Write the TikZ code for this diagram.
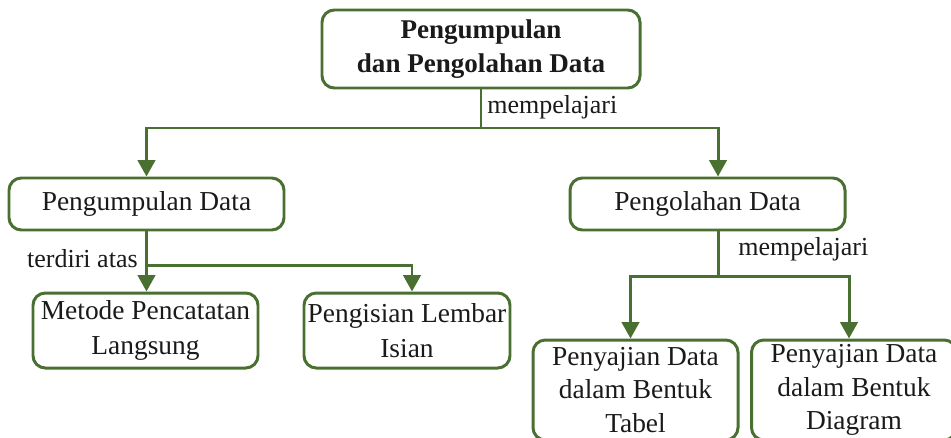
\documentclass[tikz,border=0pt]{standalone}
\usepackage{fontspec}
\setmainfont{Liberation Serif}
\usetikzlibrary{arrows.meta, positioning, calc}
\definecolor{treegreen}{HTML}{4A7031}
\definecolor{darktext}{HTML}{1A1A1A}
\tikzset{
  card/.style={rectangle, rounded corners=7pt, align=center, draw=treegreen,
               line width=1.7pt, fill=white, text=darktext, inner sep=1pt,
               font=\fontsize{15.6}{19.9}\selectfont},
  rootcard/.style={card, minimum width=6.36cm, minimum height=1.56cm,
               font=\fontsize{15.4}{19.2}\selectfont\bfseries},
  midcard/.style={card, minimum width=5.5cm, minimum height=1.04cm},
  leafcard/.style={card, minimum width=4.4cm, minimum height=1.5cm},
  tallcard/.style={card, minimum width=4.1cm, minimum height=2.0cm,
               font=\fontsize{15.6}{19.2}\selectfont},
  rel/.style={font=\fontsize{14.8}{17}\selectfont, text=darktext, inner sep=0pt},
  link/.style={line width=1.7pt, draw=treegreen},
  flow/.style={link, -{Triangle[length=3.3mm, width=3.5mm]}},
}
\def\shiftpo{0.21}
\def\shiftleaf{0.1}

\begin{document}
\begin{tikzpicture}

% Page frame, the lowest boxes run off its bottom edge
\useasboundingbox (0,0) rectangle (19.02,-8.74);
\clip (0,0) rectangle (19.02,-8.74);

% Root
\node[rootcard] (root) at (9.62,-0.98) {Pengumpulan\\dan Pengolahan Data};

% Second level
\node[midcard] (kumpul) at (2.93,-4.08) {Pengumpulan Data};
\node[midcard] (olah)   at (14.15,-4.08) {Pengolahan Data};

% Leaves under Pengumpulan Data
\node[leafcard, minimum width=4.5cm]  (catat) at (2.91,-6.61) {Metode Pencatatan\\Langsung};
\node[leafcard, minimum width=4.12cm] (isian) at (8.14,-6.61) {Pengisian Lembar\\Isian};

% Leaves under Pengolahan Data
\node[tallcard] (tabel)   at (12.71,-7.80) {Penyajian Data\\dalam Bentuk\\Tabel};
\node[tallcard] (diagram) at (17.08,-7.80) {Penyajian Data\\dalam Bentuk\\Diagram};

% Forks
\coordinate (fork1) at (9.62,-2.56);
\coordinate (fork2) at (2.93,-5.30);
\coordinate (fork3) at (14.36,-5.52);

% Relation labels
\node[rel, anchor=west] (lbl1) at (9.74,-2.14) {mempelajari};
\node[rel, anchor=east] (lbl2) at (2.76,-5.17) {terdiri atas};
\node[rel, anchor=west] (lbl3) at (14.76,-4.98) {mempelajari};

% Flow
\draw[link] (root.south) -- (fork1);
\draw[flow] (fork1) -| (kumpul.north);
\draw[flow] (fork1) -| ($(olah.north)+(\shiftpo,0)$);

\draw[flow] (kumpul.south) -- (kumpul.south |- catat.north);
\draw[flow] (fork2) -| ($(isian.north)+(\shiftleaf,0)$);

\draw[link] ($(olah.south)+(\shiftpo,0)$) -- (fork3);
\draw[flow] (fork3) -| ($(tabel.north)-(\shiftleaf,0)$);
\draw[flow] (fork3) -| ($(diagram.north)-(\shiftleaf,0)$);

\end{tikzpicture}
\end{document}
